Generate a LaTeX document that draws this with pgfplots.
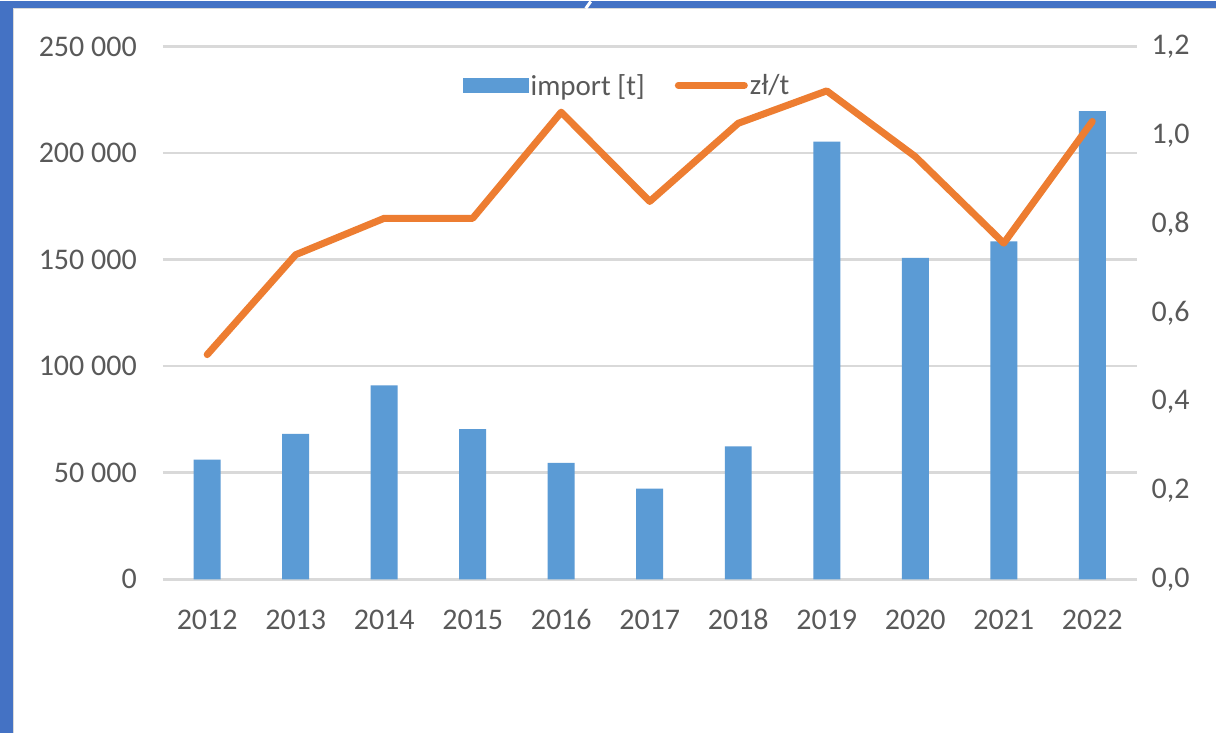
\documentclass[border=0pt]{standalone}
\usepackage{pgfplots}
\pgfplotsset{compat=1.18}
\usepackage{fontspec}
\setmainfont{Carlito}
\definecolor{barblue}{HTML}{5B9BD5}
\definecolor{lineorange}{HTML}{ED7D31}
\definecolor{gridgray}{HTML}{D9D9D9}
\definecolor{labelgray}{HTML}{595959}
\definecolor{frameblue}{HTML}{4472C4}
\begin{document}
\begin{tikzpicture}[x=1pt,y=1pt]
\fill[frameblue] (0,0) rectangle (1216,732);
\fill[white] (13,0) rectangle (1216,725);
\draw[gray!30, line width=1pt] (13.5,0) -- (13.5,724.5) -- (1216,724.5);
\draw[white, line width=3pt] (586,725) -- (591,732);

\begin{axis}[
  at={(163pt,154pt)}, anchor=south west,
  scale only axis, width=974pt, height=533pt,
  xmin=-0.5, xmax=10.5, ymin=0, ymax=250000,
  xtick={0,1,2,3,4,5,6,7,8,9,10},
  xticklabels={2012,2013,2014,2015,2016,2017,2018,2019,2020,2021,2022},
  ytick={0,50000,100000,150000,200000,250000},
  yticklabels={0,50 000,100 000,150 000,200 000,250 000},
  scaled y ticks=false,
  axis line style={draw=none},
  major tick length=0pt,
  ymajorgrids, grid style={gridgray, line width=2.6pt},
  tick label style={font=\fontsize{30}{36}\selectfont, text=labelgray, inner sep=0pt},
  xticklabel style={anchor=base, yshift=-50pt},
  yticklabel style={anchor=east, xshift=-26pt},
]
\addplot[ybar, bar width=27pt, fill=barblue, draw=none] coordinates {
  (0,56100) (1,68200) (2,91000) (3,70500) (4,54600) (5,42500)
  (6,62300) (7,205400) (8,150800) (9,158500) (10,219700)
};
\end{axis}

\begin{axis}[
  at={(163pt,154pt)}, anchor=south west,
  scale only axis, width=974pt, height=533pt,
  xmin=-0.5, xmax=10.5, ymin=0, ymax=1.2,
  axis x line=none, axis y line*=right,
  y axis line style={draw=none},
  ytick={0,0.2,0.4,0.6,0.8,1.0,1.2},
  yticklabels={{0,0},{0,2},{0,4},{0,6},{0,8},{1,0},{1,2}},
  major tick length=0pt,
  tick label style={font=\fontsize{30}{36}\selectfont, text=labelgray, inner sep=0pt},
  yticklabel style={anchor=west, xshift=15pt},
  legend style={at={(0.477,0.927)}, anchor=center, draw=none, fill=none,
    font=\fontsize{29}{34}\selectfont, text=labelgray,
    legend columns=2, nodes={inner sep=2pt},
    /tikz/every even column/.append style={column sep=28pt}},
]
\addlegendimage{legend image code/.code={\fill[barblue] (0pt,-7pt) rectangle (65pt,7pt);}}
\addlegendentry{import [t]}
\addplot[lineorange, line width=7pt, line cap=round, line join=round,
  legend image code/.code={\draw[lineorange,line width=7pt,line cap=round] (2pt,0pt)--(68pt,0pt);}] coordinates {
  (0,0.506) (1,0.731) (2,0.813) (3,0.813) (4,1.052) (5,0.851)
  (6,1.027) (7,1.100) (8,0.952) (9,0.757) (10,1.031)
};
\addlegendentry{zł/t}
\end{axis}
\end{tikzpicture}
\end{document}
